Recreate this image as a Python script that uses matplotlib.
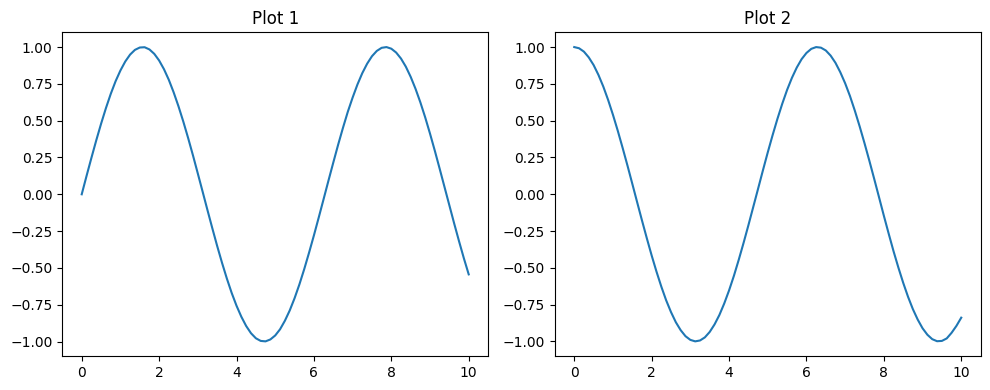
import matplotlib
matplotlib.use("Agg")
import matplotlib.pyplot as plt

# pontos, de 0 a 10 em passos de 0.125
x = [i * 0.125 for i in range(81)]

y1 = [0.0, 0.125, 0.247, 0.366, 0.479, 0.585, 0.682, 0.768, 0.841, 0.902,
      0.949, 0.981, 0.997, 0.999, 0.984, 0.954, 0.909, 0.850, 0.778, 0.693,
      0.598, 0.494, 0.382, 0.264, 0.141, 0.017, -0.108, -0.231, -0.351, -0.465,
      -0.572, -0.670, -0.757, -0.832, -0.895, -0.944, -0.978, -0.996, -0.999,
      -0.986, -0.959, -0.917, -0.859, -0.789, -0.706, -0.612, -0.508, -0.396,
      -0.279, -0.157, -0.033, 0.092, 0.215, 0.336, 0.451, 0.560, 0.657, 0.746,
      0.823, 0.887, 0.938, 0.974, 0.995, 1.000, 0.989, 0.963, 0.922, 0.867,
      0.798, 0.717, 0.625, 0.523, 0.412, 0.295, 0.173, 0.049, -0.075, -0.199,
      -0.319, -0.435, -0.544]

y2 = [1.0, 0.992, 0.969, 0.930, 0.878, 0.811, 0.732, 0.641, 0.540, 0.431,
      0.315, 0.195, 0.071, -0.054, -0.178, -0.299, -0.416, -0.526, -0.628,
      -0.721, -0.801, -0.870, -0.924, -0.965, -0.990, -1.000, -0.994, -0.973,
      -0.936, -0.885, -0.821, -0.743, -0.654, -0.555, -0.446, -0.331, -0.211,
      -0.087, 0.037, 0.162, 0.284, 0.401, 0.512, 0.615, 0.709, 0.791, 0.861,
      0.918, 0.960, 0.988, 1.000, 0.996, 0.977, 0.942, 0.893, 0.829, 0.754,
      0.667, 0.568, 0.461, 0.347, 0.228, 0.105, -0.020, -0.146, -0.268, -0.387,
      -0.498, -0.602, -0.697, -0.781, -0.852, -0.911, -0.955, -0.985, -0.999,
      -0.997, -0.980, -0.942, -0.895, -0.839]

titulos = ['Plot 1', 'Plot 2']

fig, axes = plt.subplots(1, 2, figsize=(9.9, 3.9), dpi=100)
axes[0].plot(x, y1, color='#1f77b4')
axes[1].plot(x, y2, color='#1f77b4')
for ax, t in zip(axes, titulos):
    ax.set_title(t)
    ax.set_xticks([0, 2, 4, 6, 8, 10])
    ax.set_yticks([-1.0, -0.75, -0.5, -0.25, 0.0, 0.25, 0.5, 0.75, 1.0])

# margens medidas na imagem de referencia
fig.subplots_adjust(left=0.063, right=0.9905, top=0.917, bottom=0.087, wspace=0.157)
plt.savefig('out.png')
